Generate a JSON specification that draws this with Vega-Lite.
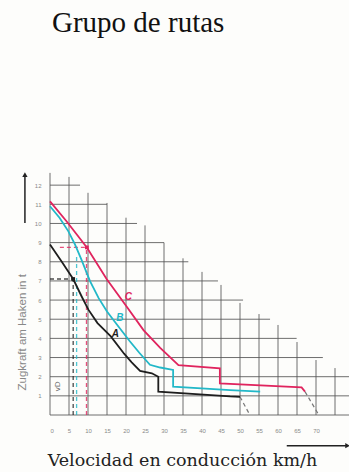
{
  "$schema": "https://vega.github.io/schema/vega-lite/v6.json",
  "width": 299,
  "height": 249,
  "autosize": {"type": "none"},
  "padding": {"left": 50, "top": 166, "right": 0, "bottom": 57},
  "background": "#fdfdfb",
  "title": {"text": "Grupo de rutas", "anchor": "start", "frame": "group", "font": "Liberation Serif", "fontSize": 29, "fontWeight": "normal", "color": "#111", "offset": 128, "dx": 2},
  "config": {"view": {"stroke": null}},
  "datasets": {
    "grid": [
      {"x": 0, "x2": 0, "y": 0, "y2": 12.64}, {"x": 5, "x2": 5, "y": 0, "y2": 12.43}, {"x": 10, "x2": 10, "y": 0, "y2": 11.6},
      {"x": 15, "x2": 15, "y": 0, "y2": 11.07}, {"x": 20, "x2": 20, "y": 0, "y2": 10.3}, {"x": 25, "x2": 25, "y": 0, "y2": 9.9},
      {"x": 30, "x2": 30, "y": 0, "y2": 9.0}, {"x": 35, "x2": 35, "y": 0, "y2": 8.18}, {"x": 40, "x2": 40, "y": 0, "y2": 7.47},
      {"x": 45, "x2": 45, "y": 0, "y2": 6.79}, {"x": 50, "x2": 50, "y": 0, "y2": 5.85}, {"x": 55, "x2": 55, "y": 0, "y2": 5.27},
      {"x": 60, "x2": 60, "y": 0, "y2": 4.7}, {"x": 65, "x2": 65, "y": 0, "y2": 3.81}, {"x": 70, "x2": 70, "y": 0, "y2": 2.87},
      {"x": 75, "x2": 75, "y": 0, "y2": 2.45},
      {"x": 0, "x2": 79, "y": 0, "y2": 0}, {"x": 0, "x2": 79, "y": 1, "y2": 1}, {"x": 0, "x2": 78.7, "y": 2, "y2": 2},
      {"x": 0, "x2": 71.8, "y": 3, "y2": 3}, {"x": 0, "x2": 64.9, "y": 4, "y2": 4}, {"x": 0, "x2": 57.9, "y": 5, "y2": 5},
      {"x": 0, "x2": 50.8, "y": 6, "y2": 6}, {"x": 0, "x2": 44.2, "y": 7, "y2": 7}, {"x": 0, "x2": 36.4, "y": 8, "y2": 8},
      {"x": 0, "x2": 30, "y": 9, "y2": 9}, {"x": 0, "x2": 22.9, "y": 10, "y2": 10}, {"x": 0, "x2": 15, "y": 11, "y2": 11},
      {"x": 0, "x2": 7.9, "y": 12, "y2": 12}
    ],
    "curves": [
      {"s": "A", "i": 1, "x": 0, "y": 8.9}, {"s": "A", "i": 2, "x": 3.1, "y": 8.0}, {"s": "A", "i": 3, "x": 6.1, "y": 7.1},
      {"s": "A", "i": 4, "x": 8.3, "y": 6.2}, {"s": "A", "i": 5, "x": 10.1, "y": 5.5}, {"s": "A", "i": 6, "x": 12.5, "y": 4.8},
      {"s": "A", "i": 7, "x": 16, "y": 4.1}, {"s": "A", "i": 8, "x": 19.5, "y": 3.2}, {"s": "A", "i": 9, "x": 21.5, "y": 2.75},
      {"s": "A", "i": 10, "x": 23.7, "y": 2.3}, {"s": "A", "i": 11, "x": 26.8, "y": 2.18}, {"s": "A", "i": 12, "x": 28.5, "y": 2.0},
      {"s": "A", "i": 13, "x": 28.5, "y": 1.22}, {"s": "A", "i": 14, "x": 47.4, "y": 0.97}, {"s": "A", "i": 15, "x": 50, "y": 0.95},
      {"s": "B", "i": 1, "x": 0, "y": 10.9}, {"s": "B", "i": 2, "x": 2.5, "y": 10.3}, {"s": "B", "i": 3, "x": 4.8, "y": 9.6},
      {"s": "B", "i": 4, "x": 6.6, "y": 8.9}, {"s": "B", "i": 5, "x": 8.3, "y": 8.1}, {"s": "B", "i": 6, "x": 10.5, "y": 7.0},
      {"s": "B", "i": 7, "x": 12.8, "y": 6.1}, {"s": "B", "i": 8, "x": 15, "y": 5.4}, {"s": "B", "i": 9, "x": 17.5, "y": 4.75},
      {"s": "B", "i": 10, "x": 21, "y": 3.85}, {"s": "B", "i": 11, "x": 23.5, "y": 3.25}, {"s": "B", "i": 12, "x": 26.3, "y": 2.62},
      {"s": "B", "i": 13, "x": 29, "y": 2.48}, {"s": "B", "i": 14, "x": 32.4, "y": 2.35}, {"s": "B", "i": 15, "x": 32.4, "y": 1.48},
      {"s": "B", "i": 16, "x": 47.4, "y": 1.3}, {"s": "B", "i": 17, "x": 55.3, "y": 1.22},
      {"s": "C", "i": 1, "x": 0, "y": 11.15}, {"s": "C", "i": 2, "x": 4.4, "y": 10.1}, {"s": "C", "i": 3, "x": 9.7, "y": 8.75},
      {"s": "C", "i": 4, "x": 14.9, "y": 7.1}, {"s": "C", "i": 5, "x": 20.2, "y": 5.65}, {"s": "C", "i": 6, "x": 24.6, "y": 4.43},
      {"s": "C", "i": 7, "x": 29, "y": 3.5}, {"s": "C", "i": 8, "x": 33.8, "y": 2.6}, {"s": "C", "i": 9, "x": 44.7, "y": 2.44},
      {"s": "C", "i": 10, "x": 44.7, "y": 1.65}, {"s": "C", "i": 11, "x": 66.2, "y": 1.44}, {"s": "C", "i": 12, "x": 67.1, "y": 1.22}
    ],
    "tails": [
      {"s": "A", "x": 50, "y": 0.95, "x2": 52.6, "y2": 0},
      {"s": "C", "x": 67.1, "y": 1.22, "x2": 70.6, "y2": 0.05}
    ],
    "guides": [
      {"s": "A", "x": 6.1, "x2": 6.1, "y": 0, "y2": 7.1},
      {"s": "A", "x": 0, "x2": 6.1, "y": 7.1, "y2": 7.1},
      {"s": "B", "x": 7.0, "x2": 7.0, "y": 0, "y2": 8.3},
      {"s": "C", "x": 9.6, "x2": 9.6, "y": 0, "y2": 8.75},
      {"s": "C", "x": 2.6, "x2": 9.6, "y": 8.75, "y2": 8.75}
    ],
    "points": [
      {"s": "A", "x": 6.1, "y": 7.1},
      {"s": "C", "x": 9.7, "y": 8.75}
    ],
    "labels": [
      {"s": "A", "t": "A", "x": 17.2, "y": 4.25},
      {"s": "B", "t": "B", "x": 18.4, "y": 5.05},
      {"s": "C", "t": "C", "x": 20.6, "y": 6.17}
    ],
    "arrows": [
      {"x": -6.6, "x2": -6.6, "y": 10.03, "y2": 12.5},
      {"x": 62.3, "x2": 78.0, "y": -1.6, "y2": -1.6}
    ],
    "heads": [
      {"x": -6.6, "y": 12.55, "d": "up"},
      {"x": 78.3, "y": -1.6, "d": "right"}
    ],
    "notes": [
      {"t": "vD", "x": 2.2, "y": 1.5}
    ]
  },
  "encoding": {
    "x": {
      "field": "x", "type": "quantitative",
      "scale": {"domain": [0, 78.68], "nice": false, "zero": false},
      "axis": {
        "values": [0, 5, 10, 15, 20, 25, 30, 35, 40, 45, 50, 55, 60, 65, 70],
        "domain": false, "ticks": false, "grid": false,
        "labelFontSize": 6, "labelColor": "#8a8a8a", "labelPadding": 12, "labelFont": "Liberation Sans",
        "title": "Velocidad en conducción km/h", "titleFont": "DejaVu Serif", "titleFontSize": 17.5,
        "titleFontWeight": "normal", "titleColor": "#222", "titleX": 132, "titleY": 50,
        "titleAlign": "center", "titleBaseline": "alphabetic"
      }
    },
    "y": {
      "field": "y", "type": "quantitative",
      "scale": {"domain": [0, 13], "nice": false, "zero": false},
      "axis": {
        "values": [1, 2, 3, 4, 5, 6, 7, 8, 9, 10, 11, 12],
        "domain": false, "ticks": false, "grid": false,
        "labelFontSize": 6, "labelColor": "#8a8a8a", "labelPadding": 9, "labelFont": "Liberation Sans",
        "title": "Zugkraft am Haken in t", "titleFont": "Liberation Sans", "titleFontSize": 11.5,
        "titleFontWeight": "normal", "titleColor": "#888", "titleX": -28, "titleY": 224,
        "titleAngle": 270, "titleAlign": "left", "titleBaseline": "middle"
      }
    }
  },
  "layer": [
    {
      "data": {"name": "grid"},
      "mark": {"type": "rule", "color": "#555", "strokeWidth": 1, "opacity": 0.85},
      "encoding": {"x2": {"field": "x2"}, "y2": {"field": "y2"}}
    },
    {
      "data": {"name": "guides"},
      "mark": {"type": "rule", "strokeWidth": 1.3, "strokeDash": [4, 3], "opacity": 0.8},
      "encoding": {
        "x2": {"field": "x2"}, "y2": {"field": "y2"},
        "color": {"field": "s", "type": "nominal", "scale": {"domain": ["A", "B", "C"], "range": ["#1e1e1e", "#22b8c8", "#e0245e"]}, "legend": null}
      }
    },
    {
      "data": {"name": "tails"},
      "mark": {"type": "rule", "strokeWidth": 1.2, "strokeDash": [4, 3], "color": "#777"},
      "encoding": {"x2": {"field": "x2"}, "y2": {"field": "y2"}}
    },
    {
      "data": {"name": "curves"},
      "mark": {"type": "line", "strokeWidth": 1.8},
      "encoding": {
        "order": {"field": "i", "type": "quantitative"},
        "detail": {"field": "s"},
        "color": {"field": "s", "type": "nominal", "scale": {"domain": ["A", "B", "C"], "range": ["#1e1e1e", "#22b8c8", "#e0245e"]}, "legend": null}
      }
    },
    {
      "data": {"name": "points"},
      "mark": {"type": "point", "shape": "square", "filled": true, "size": 14, "opacity": 1},
      "encoding": {
        "color": {"field": "s", "type": "nominal", "scale": {"domain": ["A", "B", "C"], "range": ["#1e1e1e", "#22b8c8", "#e0245e"]}, "legend": null}
      }
    },
    {
      "data": {"name": "labels"},
      "mark": {"type": "text", "fontSize": 10, "fontStyle": "italic", "font": "Liberation Sans", "fontWeight": "bold"},
      "encoding": {
        "text": {"field": "t"},
        "color": {"field": "s", "type": "nominal", "scale": {"domain": ["A", "B", "C"], "range": ["#1e1e1e", "#3cae7a", "#e0245e"]}, "legend": null}
      }
    },
    {
      "data": {"name": "notes"},
      "mark": {"type": "text", "fontSize": 8, "angle": 270, "color": "#666", "font": "Liberation Sans"},
      "encoding": {"text": {"field": "t"}}
    },
    {
      "data": {"name": "arrows"},
      "mark": {"type": "rule", "color": "#222", "strokeWidth": 1.5},
      "encoding": {"x2": {"field": "x2"}, "y2": {"field": "y2"}}
    },
    {
      "data": {"name": "heads"},
      "mark": {"type": "point", "filled": true, "size": 28, "color": "#222", "opacity": 1},
      "encoding": {
        "shape": {"field": "d", "type": "nominal", "scale": {"domain": ["up", "right"], "range": ["triangle-up", "triangle-right"]}, "legend": null}
      }
    }
  ]
}
